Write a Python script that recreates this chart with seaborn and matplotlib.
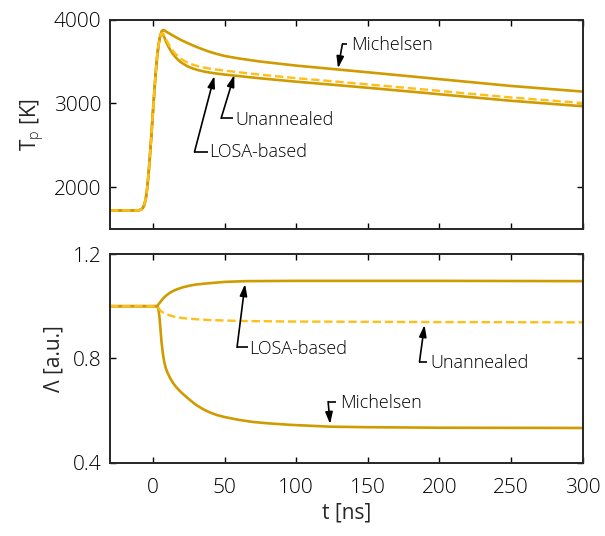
import numpy as np
import pandas as pd
import matplotlib
matplotlib.use("Agg")
import matplotlib.pyplot as plt
import seaborn as sns

# ---- particle temperature T_p [K] ----
t_T = [-30, -10, -8, -7, -6, -5, -4, -3, -2, -1, 0, 1, 2, 3, 4, 5, 6, 7, 8, 9,
       10, 12, 14, 16, 18, 20, 24, 28, 32, 36, 40, 44, 50, 60, 75, 100, 130,
       160, 190, 210, 250, 300]
T_michelsen = [1720, 1722, 1735, 1752, 1790, 1860, 1990, 2170, 2400, 2640,
               2900, 3150, 3380, 3570, 3710, 3805, 3858, 3875, 3870, 3858,
               3848, 3828, 3808, 3788, 3770, 3752, 3720, 3690, 3662, 3636,
               3612, 3592, 3565, 3535, 3498, 3450, 3402, 3354, 3305, 3272,
               3207, 3140]
T_losa = [1720, 1722, 1735, 1752, 1790, 1860, 1990, 2170, 2400, 2640,
          2900, 3150, 3380, 3570, 3710, 3795, 3832, 3822, 3785, 3741,
          3703, 3639, 3587, 3546, 3512, 3484, 3443, 3414, 3394, 3378,
          3366, 3356, 3343, 3325, 3298, 3258, 3215, 3170, 3124, 3092,
          3030, 2965]
T_unannealed = [1720, 1722, 1735, 1752, 1790, 1860, 1990, 2170, 2400, 2640,
                2900, 3150, 3380, 3570, 3710, 3798, 3835, 3836, 3805, 3768,
                3735, 3675, 3625, 3585, 3552, 3525, 3487, 3460, 3440, 3425,
                3413, 3403, 3390, 3370, 3342, 3300, 3256, 3210, 3164, 3132,
                3070, 3003]

# ---- soot property Lambda [a.u.] ----
t_L = [-30, 2.8, 4, 5, 6, 8, 10, 12, 14, 16, 20, 25, 30, 39, 50, 65, 100,
       200, 300]
L_losa = [1.0, 1.0, 1.008, 1.015, 1.022, 1.035, 1.044, 1.052, 1.058, 1.063,
          1.071, 1.078, 1.083, 1.088, 1.093, 1.096, 1.097, 1.097, 1.096]
L_unannealed = [1.0, 1.0, 0.992, 0.985, 0.979, 0.973, 0.968, 0.964, 0.961,
                0.958, 0.955, 0.952, 0.950, 0.947, 0.945, 0.943, 0.941, 0.939,
                0.938]
t_Lm = [-30, 2.8, 3.5, 4, 4.5, 5, 5.5, 6, 7, 8, 9, 10, 12, 14, 16, 20, 25,
        30, 35, 40, 45, 50, 60, 70, 80, 96, 124, 150, 200, 300]
L_michelsen = [1.0, 1.0, 0.995, 0.983, 0.96, 0.93, 0.895, 0.862, 0.815, 0.783,
               0.762, 0.747, 0.724, 0.706, 0.691, 0.668, 0.644, 0.622, 0.605,
               0.592, 0.582, 0.575, 0.564, 0.556, 0.551, 0.545, 0.538, 0.536,
               0.534, 0.533]

x_ticks = [0, 50, 100, 150, 200, 250, 300]
T_ticks = [2000, 3000, 4000]
L_ticks = [0.4, 0.8, 1.2]

SOLID = "#D09B00"
DASHED = "#FFBF1A"

sns.set_style("ticks")
plt.rcParams["font.family"] = ["Open Sans", "DejaVu Sans"]
plt.rcParams["font.weight"] = "light"
plt.rcParams["mathtext.fontset"] = "custom"
plt.rcParams["mathtext.rm"] = "Open Sans:light"
plt.rcParams["mathtext.it"] = "Open Sans:light"
plt.rcParams["text.color"] = "black"

fig = plt.figure(figsize=(6.05, 5.36), dpi=100)
ax1 = fig.add_axes([0.1818, 0.5728, 0.7812, 0.3908])
ax2 = fig.add_axes([0.1818, 0.1368, 0.7812, 0.3893])

lw = 1.9
dash = (0, (3.5, 1.6))
df_T = pd.DataFrame({"t": t_T, "mich": T_michelsen, "unann": T_unannealed,
                     "losa": T_losa})
sns.lineplot(data=df_T, x="t", y="mich", ax=ax1, color=SOLID, lw=lw, sort=False)
sns.lineplot(data=df_T, x="t", y="losa", ax=ax1, color=SOLID, lw=lw, sort=False)
sns.lineplot(data=df_T, x="t", y="unann", ax=ax1, color=DASHED, lw=lw * 0.9,
             sort=False, linestyle=dash)

df_L = pd.DataFrame({"t": t_L, "losa": L_losa, "unann": L_unannealed})
df_Lm = pd.DataFrame({"t": t_Lm, "mich": L_michelsen})
sns.lineplot(data=df_Lm, x="t", y="mich", ax=ax2, color=SOLID, lw=lw, sort=False)
sns.lineplot(data=df_L, x="t", y="losa", ax=ax2, color=SOLID, lw=lw, sort=False)
sns.lineplot(data=df_L, x="t", y="unann", ax=ax2, color=DASHED, lw=lw * 0.9,
             sort=False, linestyle=dash)

for ax in (ax1, ax2):
    ax.set_xlim(-30, 300)
    ax.set_xticks(x_ticks)
    ax.tick_params(direction="in", length=4.5, width=1.0, top=True, right=True,
                   labelsize=15, colors="black", labelcolor="black")
    ax.tick_params(axis="y", pad=6)
    ax.tick_params(axis="x", pad=11)
    for s in ax.spines.values():
        s.set_linewidth(1.4)
        s.set_visible(True)

ax1.set_ylim(1500, 4000)
ax1.set_yticks(T_ticks)
ax1.set_xticklabels([])
ax1.set_xlabel("")
ax1.set_ylabel(r"T$_\mathrm{p}$ [K]", fontsize=15, labelpad=6)

ax2.set_ylim(0.4, 1.2)
ax2.set_yticks(L_ticks)
ax2.set_yticklabels([f"{v:.1f}" for v in L_ticks])
ax2.set_xlabel("t [ns]", fontsize=15, labelpad=3)
ax2.set_ylabel("Λ [a.u.]", fontsize=15, labelpad=6)


def label(ax, text, tip, corner, stub_end, text_xy):
    ax.plot([stub_end[0], corner[0]], [stub_end[1], corner[1]], color="black",
            lw=1.2, solid_capstyle="butt")
    ax.annotate("", xy=tip, xytext=corner,
                arrowprops=dict(arrowstyle="-|>,head_length=0.7,head_width=0.22",
                                color="black", lw=1.2, shrinkA=0, shrinkB=0,
                                mutation_scale=10))
    ax.text(text_xy[0], text_xy[1], text, fontsize=13, ha="left", va="center")


label(ax1, "Michelsen", (129.2, 3418), (132.3, 3708), (135.8, 3708), (138.5, 3700))
label(ax1, "Unannealed", (56.8, 3338), (47.6, 2821), (55.7, 2821), (57.5, 2800))
label(ax1, "LOSA-based", (42.9, 3326), (29.0, 2420), (38.3, 2420), (39.5, 2420))

label(ax2, "LOSA-based", (64.3, 1.085), (58.7, 0.842), (66.2, 0.842), (67.0, 0.835))
label(ax2, "Unannealed", (189.6, 0.928), (186.1, 0.787), (191.5, 0.787), (193.5, 0.782))
label(ax2, "Michelsen", (123.7, 0.548), (122.3, 0.634), (127.6, 0.634), (130.5, 0.630))

fig.savefig("out.png", dpi=100)
